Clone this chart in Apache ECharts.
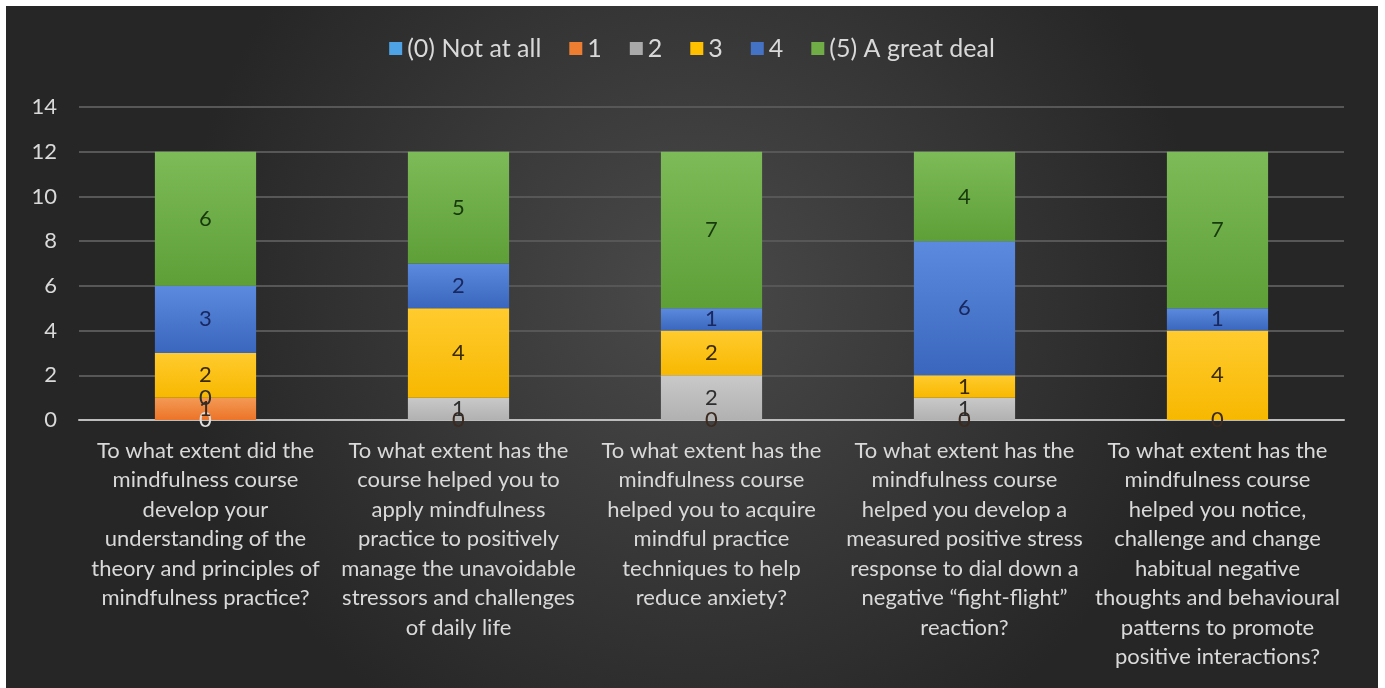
<!DOCTYPE html>
<html>
<head>
<meta charset="utf-8">
<script src="https://cdn.jsdelivr.net/npm/echarts@6/dist/echarts.min.js"></script>
<style>
  html, body { margin: 0; padding: 0; background: #ffffff; }
  #chart { position: absolute; left: 6px; top: 6px; width: 1372px; height: 682px; }
</style>
</head>
<body>
<div id="chart"></div>
<script>
// Survey questions (category axis), wrapped as on the slide
const questions = [
  'To what extent did the\nmindfulness course\ndevelop your\nunderstanding of the\ntheory and principles of\nmindfulness practice?',
  'To what extent has the\ncourse helped you to\napply mindfulness\npractice to positively\nmanage the unavoidable\nstressors and challenges\nof daily life',
  'To what extent has the\nmindfulness course\nhelped you to acquire\nmindful practice\ntechniques to help\nreduce anxiety?',
  'To what extent has the\nmindfulness course\nhelped you develop a\nmeasured positive stress\nresponse to dial down a\nnegative \u201cfight-flight\u201d\nreaction?',
  'To what extent has the\nmindfulness course\nhelped you notice,\nchallenge and change\nhabitual negative\nthoughts and behavioural\npatterns to promote\npositive interactions?'
];

// Response counts per rating
const ratingNames = ['(0) Not at all', '1', '2', '3', '4', '(5) A great deal'];
const rating0 = [0, null, null, null, null];
const rating1 = [1, 0, 0, 0, 0];
const rating2 = [0, 1, 2, 1, null];
const rating3 = [2, 4, 2, 1, 4];
const rating4 = [3, 2, 1, 6, 1];
const rating5 = [6, 5, 7, 4, 7];

const yTicks = { min: 0, max: 14, interval: 2 };

const FONT = 'Lato, "Open Sans", sans-serif';

function grad(top, bottom) {
  return new echarts.graphic.LinearGradient(0, 0, 0, 1, [
    { offset: 0, color: top },
    { offset: 1, color: bottom }
  ]);
}

const styles = [
  { legend: '#4ea3e6', fill: grad('#5aa7e6', '#3f8fd6'), label: '#e0e0e0' },
  { legend: '#ed7d31', fill: grad('#f39a55', '#ec7428'), label: '#3a2a20' },
  { legend: '#a9a9a9', fill: grad('#c9c9c9', '#b1b1b1'), label: '#2e2e2e' },
  { legend: '#ffc000', fill: grad('#ffcb2e', '#f7b800'), label: '#3a2a00' },
  { legend: '#4472c4', fill: grad('#5b8ade', '#3a67bd'), label: '#1a2860' },
  { legend: '#70ad47', fill: grad('#7cbb57', '#5f9f38'), label: '#173a0c' }
];

const values = [rating0, rating1, rating2, rating3, rating4, rating5];

const series = values.map((data, i) => ({
  name: ratingNames[i],
  type: 'bar',
  stack: 'total',
  barWidth: '40%',
  data: data,
  itemStyle: { color: styles[i].fill },
  label: {
    show: true,
    position: 'inside',
    color: styles[i].label,
    fontFamily: FONT,
    fontSize: 22
  },
  emphasis: { disabled: true }
}));

const chart = echarts.init(document.getElementById('chart'));
chart.setOption({
  backgroundColor: new echarts.graphic.RadialGradient(0.5, 0.42, 0.75, [
    { offset: 0, color: '#4a4a4a' },
    { offset: 1, color: '#262626' }
  ]),
  animation: false,
  color: styles.map(s => s.legend),
  legend: {
    top: 25,
    left: 'center',
    icon: 'rect',
    itemWidth: 13,
    itemHeight: 13,
    itemGap: 28,
    textStyle: { color: '#d9d9d9', fontSize: 25, fontFamily: FONT },
    data: ratingNames.map((n, i) => ({ name: n, itemStyle: { color: styles[i].legend } }))
  },
  grid: { left: 73, right: 34, top: 101, bottom: 268, containLabel: false },
  xAxis: {
    type: 'category',
    data: questions,
    axisLine: { show: true, lineStyle: { color: '#bdbdbd', width: 2 } },
    axisTick: { show: false },
    axisLabel: {
      interval: 0,
      color: '#d9d9d9',
      fontSize: 22,
      lineHeight: 29.5,
      fontFamily: FONT,
      margin: 16,
      align: 'center'
    }
  },
  yAxis: {
    type: 'value',
    min: yTicks.min,
    max: yTicks.max,
    interval: yTicks.interval,
    axisLine: { show: false },
    axisTick: { show: false },
    splitLine: { lineStyle: { color: '#575757', width: 2 } },
    axisLabel: { color: '#d9d9d9', fontSize: 22, fontFamily: FONT, margin: 22 }
  },
  series: series
});
</script>
</body>
</html>
